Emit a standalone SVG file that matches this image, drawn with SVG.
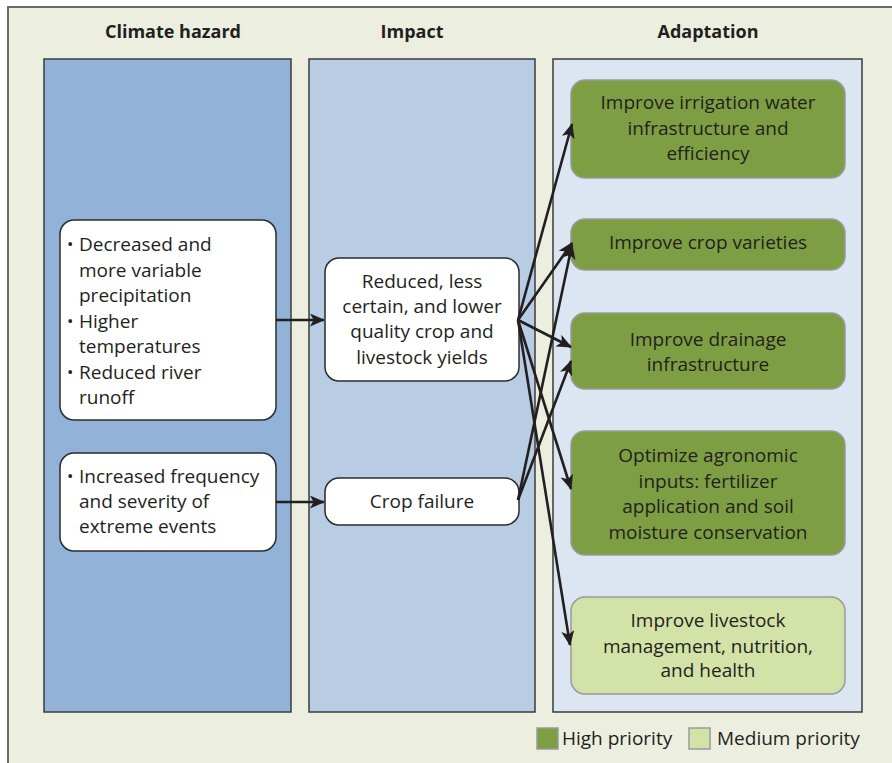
<svg xmlns="http://www.w3.org/2000/svg" width="892" height="763" viewBox="0 0 892 763">
<defs>
<style>
.col{stroke:#3b3b3b;stroke-width:1.5}
.hdr{font-family:"Open Sans","Noto Sans",sans-serif;font-weight:bold;font-size:18px;fill:#231F20;text-anchor:middle}
.t{font-family:"Open Sans","Noto Sans",sans-serif;font-size:19px;fill:#231F20}
.b{font-size:17px}
.c{text-anchor:middle}
.wbox{fill:#FFFFFF;stroke:#2b2b2b;stroke-width:1.5}
.hi{fill:#7E9E44;stroke:#9a9a9a;stroke-width:1.5}
.med{fill:#D3E3A7;stroke:#9a9a9a;stroke-width:1.5}
.conn{stroke:#231F20;stroke-width:2.6;fill:none;marker-end:url(#ah)}
</style>
<marker id="ah" viewBox="0 0 14 12" refX="13" refY="6" markerWidth="6" markerHeight="5" markerUnits="strokeWidth" orient="auto">
<path d="M0,0 L14,6 L0,12 L3.5,6 z" fill="#231F20"/>
</marker>
</defs>
<rect x="0" y="0" width="892" height="763" fill="#FFFFFF"/>
<rect x="8" y="7" width="920" height="800" fill="#ECEFDF" stroke="#6a6a6a" stroke-width="2"/>

<g id="headers">
<text class="hdr" x="173" y="38">Climate hazard</text>
<text class="hdr" x="412" y="38">Impact</text>
<text class="hdr" x="708" y="38">Adaptation</text>
</g>

<g id="columns">
<rect class="col" x="44" y="59" width="247" height="653" fill="#92B2D8"/>
<rect class="col" x="309" y="59" width="226" height="653" fill="#B8CCE4"/>
<rect class="col" x="553" y="59" width="309" height="653" fill="#DCE6F2"/>
</g>

<g id="hazard1">
<rect class="wbox" x="60" y="220" width="216" height="200" rx="14"/>
<text class="t"><tspan class="b" x="67" y="250">•</tspan><tspan x="79" y="251">Decreased and</tspan><tspan x="79" y="276.5">more variable</tspan><tspan x="79" y="302">precipitation</tspan><tspan class="b" x="67" y="327">•</tspan><tspan x="79" y="327.5">Higher</tspan><tspan x="79" y="353">temperatures</tspan><tspan class="b" x="67" y="378">•</tspan><tspan x="79" y="378.5">Reduced river</tspan><tspan x="79" y="404">runoff</tspan></text>
</g>
<g id="hazard2">
<rect class="wbox" x="60" y="453" width="216" height="98" rx="14"/>
<text class="t"><tspan class="b" x="67" y="482">•</tspan><tspan x="79" y="483">Increased frequency</tspan><tspan x="79" y="508">and severity of</tspan><tspan x="79" y="533">extreme events</tspan></text>
</g>

<g id="impact1">
<rect class="wbox" x="325" y="258" width="194" height="123" rx="14"/>
<text class="t c"><tspan x="422" y="288">Reduced, less</tspan><tspan x="422" y="313">certain, and lower</tspan><tspan x="422" y="338">quality crop and</tspan><tspan x="422" y="364">livestock yields</tspan></text>
</g>
<g id="impact2">
<rect class="wbox" x="325" y="478" width="194" height="47" rx="14"/>
<text class="t c" x="422" y="508">Crop failure</text>
</g>

<g id="adapt1">
<rect class="hi" x="571" y="80" width="274" height="98" rx="14"/>
<text class="t c"><tspan x="708" y="109">Improve irrigation water</tspan><tspan x="708" y="135">infrastructure and</tspan><tspan x="708" y="160">efficiency</tspan></text>
</g>
<g id="adapt2">
<rect class="hi" x="571" y="219" width="274" height="51" rx="14"/>
<text class="t c" x="708" y="249">Improve crop varieties</text>
</g>
<g id="adapt3">
<rect class="hi" x="571" y="313" width="274" height="76" rx="14"/>
<text class="t c"><tspan x="708" y="346">Improve drainage</tspan><tspan x="708" y="371">infrastructure</tspan></text>
</g>
<g id="adapt4">
<rect class="hi" x="571" y="431" width="274" height="124" rx="14"/>
<text class="t c"><tspan x="708" y="462">Optimize agronomic</tspan><tspan x="708" y="488">inputs: fertilizer</tspan><tspan x="708" y="513">application and soil</tspan><tspan x="708" y="539">moisture conservation</tspan></text>
</g>
<g id="adapt5">
<rect class="med" x="571" y="597" width="274" height="97" rx="14"/>
<text class="t c"><tspan x="708" y="627">Improve livestock</tspan><tspan x="708" y="653">management, nutrition,</tspan><tspan x="708" y="677">and health</tspan></text>
</g>

<g id="legend">
<rect class="hi" x="537" y="728" width="21" height="21"/>
<text class="t" x="562" y="745">High priority</text>
<rect class="med" x="689" y="728" width="21" height="21"/>
<text class="t" x="717" y="745">Medium priority</text>
</g>

<g id="connectors">
<line class="conn" x1="276" y1="320" x2="324" y2="320"/>
<line class="conn" x1="276" y1="502" x2="324" y2="502"/>
<line class="conn" x1="518" y1="320" x2="572" y2="124"/>
<line class="conn" x1="518" y1="320" x2="572" y2="243"/>
<line class="conn" x1="518" y1="320" x2="571" y2="347"/>
<line class="conn" x1="518" y1="320" x2="571" y2="489"/>
<line class="conn" x1="518" y1="320" x2="570" y2="645"/>
<line class="conn" x1="518" y1="500" x2="572" y2="245"/>
<line class="conn" x1="518" y1="500" x2="571" y2="361"/>
</g>
</svg>
